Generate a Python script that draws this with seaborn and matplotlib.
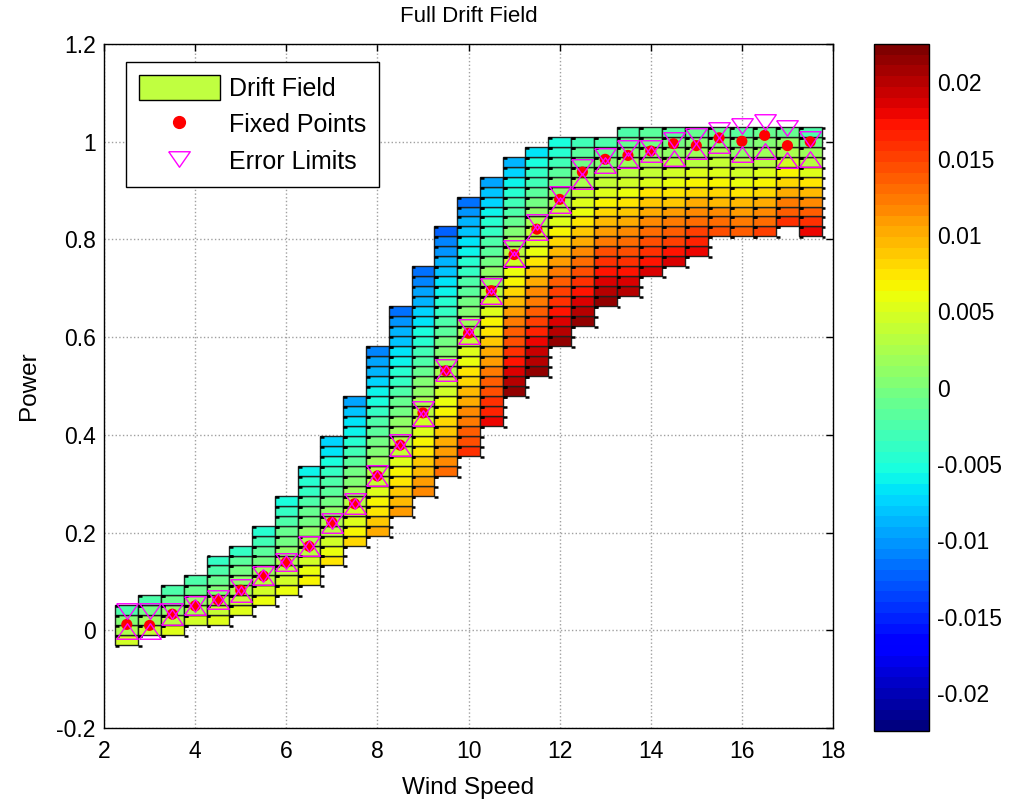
import numpy as np
import matplotlib
matplotlib.use("Agg")
import matplotlib.pyplot as plt
import seaborn as sns
from matplotlib.colors import Normalize, ListedColormap
from matplotlib.patches import Patch
from matplotlib.lines import Line2D
from matplotlib.collections import LineCollection
from matplotlib.cm import ScalarMappable
from matplotlib.ticker import FuncFormatter

# ---------------- data ----------------
wind_speed = [2.5, 3.0, 3.5, 4.0, 4.5, 5.0, 5.5, 6.0, 6.5, 7.0, 7.5, 8.0, 8.5, 9.0, 9.5,
              10.0, 10.5, 11.0, 11.5, 12.0, 12.5, 13.0, 13.5, 14.0, 14.5, 15.0, 15.5,
              16.0, 16.5, 17.0, 17.5]
# power bins are k/49 ; highest and lowest occupied bin index for each wind column
top_bin = [2, 3, 4, 5, 7, 8, 10, 13, 16, 19, 23, 28, 32, 36, 40, 43, 45, 47, 48, 49,
           49, 49, 50, 50, 50, 50, 50, 50, 50, 50, 50]
bottom_bin = [-1, 0, 0, 1, 1, 2, 3, 4, 5, 7, 9, 10, 12, 14, 16, 18, 21, 24, 26, 29,
              31, 33, 34, 36, 37, 38, 40, 40, 40, 41, 40]
# drift value of the top cell and of the bottom cell of each column
drift_top = [-0.0022, -0.0023, -0.0027, -0.0027, -0.0036, -0.0036, -0.0045, -0.0050,
             -0.0059, -0.0077, -0.0095, -0.0108, -0.0113, -0.0117, -0.0122, -0.0113,
             -0.0095, -0.0086, -0.0068, -0.0056, -0.0032, -0.0023, -0.0023, -0.0018,
             -0.0018, -0.0014, -0.0009, -0.0018, -0.0014, -0.0009, -0.0027]
drift_bottom = [0.0045, 0.0040, 0.0050, 0.0045, 0.0050, 0.0054, 0.0059, 0.0059, 0.0068,
                0.0072, 0.0081, 0.0099, 0.0108, 0.0117, 0.0130, 0.0158, 0.0180, 0.0212,
                0.0216, 0.0216, 0.0212, 0.0216, 0.0203, 0.0189, 0.0185, 0.0180, 0.0144,
                0.0140, 0.0149, 0.0158, 0.0180]
fixed_power = [0.012, 0.010, 0.033, 0.050, 0.062, 0.082, 0.111, 0.139, 0.172, 0.221,
               0.259, 0.316, 0.379, 0.445, 0.531, 0.608, 0.695, 0.769, 0.821, 0.882,
               0.938, 0.964, 0.972, 0.981, 0.996, 0.992, 1.008, 1.001, 1.013, 0.992,
               1.000]
upper_limit = [0.040, 0.040, 0.040, 0.054, 0.066, 0.088, 0.115, 0.142, 0.176, 0.224,
               0.265, 0.321, 0.385, 0.453, 0.538, 0.620, 0.705, 0.783, 0.836, 0.893,
               0.949, 0.970, 0.988, 0.987, 1.004, 1.011, 1.024, 1.033, 1.041, 1.029,
               1.005]
lower_limit = [-0.001, -0.001, 0.028, 0.048, 0.059, 0.075, 0.109, 0.137, 0.169, 0.215,
               0.254, 0.312, 0.373, 0.434, 0.526, 0.602, 0.684, 0.760, 0.815, 0.871,
               0.920, 0.953, 0.962, 0.974, 0.966, 0.980, 0.993, 0.975, 0.980, 0.962,
               0.965]
x_ticks = [2, 4, 6, 8, 10, 12, 14, 16, 18]
y_ticks = [-0.2, 0, 0.2, 0.4, 0.6, 0.8, 1.0, 1.2]
cbar_ticks = [-0.02, -0.015, -0.01, -0.005, 0, 0.005, 0.01, 0.015, 0.02]
legend_labels = ["Drift Field", "Fixed Points", "Error Limits"]

BIN = 1.0 / 49
COL_W = 0.5

sns.set_theme(style="white")
plt.rcParams["font.family"] = ["Liberation Sans", "DejaVu Sans"]
plt.rcParams["axes.unicode_minus"] = False
plt.rcParams["text.color"] = "black"
plt.rcParams["axes.labelcolor"] = "black"
plt.rcParams["xtick.color"] = "black"
plt.rcParams["ytick.color"] = "black"

fig = plt.figure(figsize=(10.11, 8.01), dpi=100)
ax = fig.add_axes([104 / 1011, 1 - 728 / 801, (833 - 104) / 1011, (728 - 44) / 801])
cax = fig.add_axes([874 / 1011, 1 - 731 / 801, 55 / 1011, (731 - 44) / 801])

cmap = ListedColormap(plt.get_cmap("jet")(np.linspace(0, 1, 64)))
norm = Normalize(-0.0225, 0.0225)

# ---------------- drift field cells ----------------
cx, cb, cd = [], [], []
seg = []
for x, kt, kb, dt, db in zip(wind_speed, top_bin, bottom_bin, drift_top, drift_bottom):
    ks = np.arange(kb, kt + 1)
    frac = (ks - kb) / max(kt - kb, 1)
    d = db + (dt - db) * frac          # drift varies linearly with power in a column
    cx.extend([x] * len(ks))
    cb.extend(list((ks - 0.5) * BIN))
    cd.extend(list(d))
    edges = (np.arange(kb, kt + 2) - 0.5) * BIN
    for xv in (x - COL_W / 2, x + COL_W / 2):
        for yv in edges:
            seg.append([(xv, yv - 0.002), (xv + 0.085, yv - 0.002)])

ax.bar(cx, BIN, width=COL_W, bottom=cb, color=cmap(norm(np.array(cd))),
       edgecolor="#202020", linewidth=1.0, zorder=2, align="center")
ax.add_collection(LineCollection(seg, colors="black", linewidths=1.8, zorder=3))

# ---------------- fixed points and error limits ----------------
sns.scatterplot(x=wind_speed, y=fixed_power, color="red", s=64, edgecolor="none",
                ax=ax, zorder=4, legend=False)
tri_down = [(-1, 0.72), (1, 0.72), (0, -0.72), (-1, 0.72)]
tri_up = [(-1, -0.72), (1, -0.72), (0, 0.72), (-1, -0.72)]
ax.plot(wind_speed, upper_limit, ls="none", marker=tri_down, ms=15.5, mfc="none",
        mec="#ff00ff", mew=1.0, zorder=5)
ax.plot(wind_speed, lower_limit, ls="none", marker=tri_up, ms=15.5, mfc="none",
        mec="#ff00ff", mew=1.0, zorder=5)

# ---------------- axes styling ----------------
ax.set_xlim(2, 18)
ax.set_ylim(-0.2, 1.2)
ax.set_xticks(x_ticks)
ax.set_yticks(y_ticks)
fmt = FuncFormatter(lambda v, p: format(round(v, 6), "g"))
ax.xaxis.set_major_formatter(fmt)
ax.yaxis.set_major_formatter(fmt)
ax.tick_params(direction="in", length=5, width=1, colors="black", labelsize=16.5,
               top=True, right=True)
ax.tick_params(axis="x", pad=9)
ax.tick_params(axis="y", pad=6)
ax.grid(True, color="#a0a0a0", linestyle=":", linewidth=1.0, zorder=0)
ax.set_axisbelow(True)
for s in ax.spines.values():
    s.set_color("black")
    s.set_linewidth(1.0)
ax.set_xlabel("Wind Speed", fontsize=17.5, labelpad=10, color="black")
ax.set_ylabel("Power", fontsize=17.5, labelpad=12, color="black")
ax.set_title("Full Drift Field", fontsize=16, pad=16, color="black")

handles = [Patch(facecolor="#c0ff40", edgecolor="black", linewidth=1.0),
           Line2D([], [], ls="none", marker="o", color="red", ms=8.5),
           Line2D([], [], ls="none", marker=tri_down, ms=15.5, mfc="none",
                  mec="#ff00ff", mew=1.0)]
leg = ax.legend(handles, legend_labels, loc="upper left",
                bbox_to_anchor=((126 - 104) / 729, (728 - 62) / 684),
                borderaxespad=0, fontsize=18, frameon=True, fancybox=False,
                framealpha=1, edgecolor="black", handlelength=3.25, handleheight=1.2,
                labelspacing=0.42, handletextpad=0.38, borderpad=0.5)
leg.get_frame().set_linewidth(1.0)
for t in leg.get_texts():
    t.set_color("black")

# ---------------- colorbar ----------------
cb_ = fig.colorbar(ScalarMappable(norm=norm, cmap=cmap), cax=cax)
cb_.set_ticks(cbar_ticks)
cb_.ax.yaxis.set_major_formatter(fmt)
cb_.ax.minorticks_off()
cax.tick_params(direction="in", length=5, width=1, colors="black", labelsize=16.5,
                left=True, right=True, labelleft=False, labelright=True, pad=6)
cb_.outline.set_edgecolor("black")
cb_.outline.set_linewidth(1.0)

fig.savefig("out.png", dpi=100, facecolor="white")
